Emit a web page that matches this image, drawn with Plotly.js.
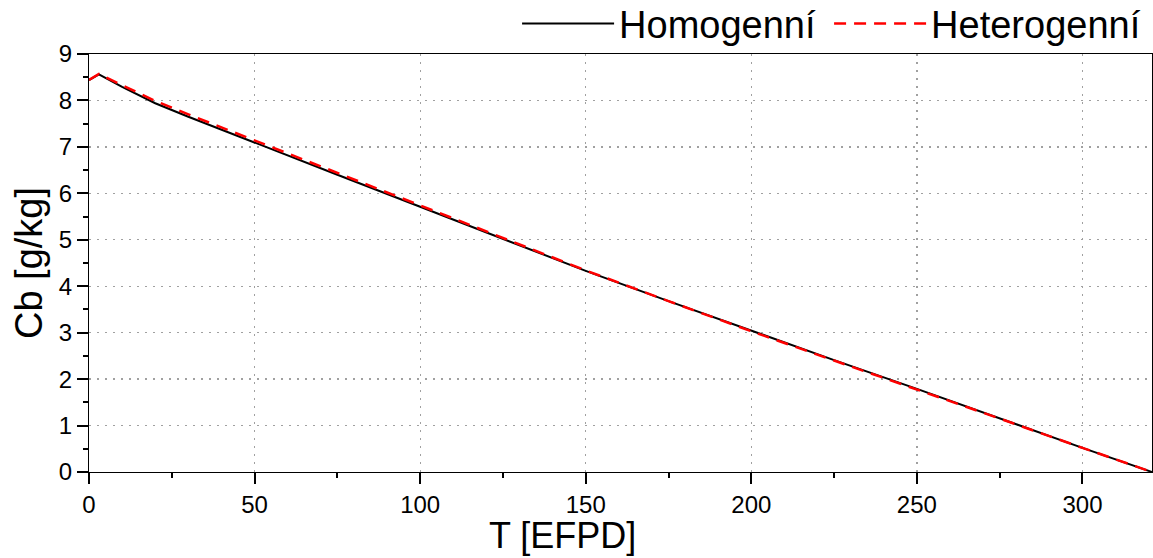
<!DOCTYPE html>
<html>
<head>
<meta charset="utf-8">
<script src="https://cdn.plot.ly/plotly-3.0.1.min.js"></script>
<style>html,body{margin:0;padding:0;background:#fff;}#chart{width:1153px;height:558px;}</style>
</head>
<body>
<div id="chart"></div>
<script>
const T = [0, 3, 10, 20, 30, 40, 50, 75, 100, 125, 150, 175, 200, 225, 250, 275, 300, 321];
const homogenni = [8.44, 8.56, 8.29, 7.94, 7.65, 7.37, 7.09, 6.40, 5.71, 5.02, 4.33, 3.68, 3.04, 2.41, 1.79, 1.15, 0.52, 0.0];
const heterogenni = [8.44, 8.57, 8.33, 7.99, 7.70, 7.42, 7.13, 6.44, 5.74, 5.04, 4.34, 3.68, 3.03, 2.40, 1.78, 1.15, 0.52, 0.0];
const seriesNames = ["Homogenní", "Heterogenní"];
const xTitle = "T [EFPD]";
const yTitle = "Cb [g/kg]";

const font = "Liberation Sans, Arial, sans-serif";
const traces = [
  {x: T, y: homogenni, name: seriesNames[0], mode: "lines", line: {color: "#000000", width: 2}, legendwidth: 205},
  {x: T, y: heterogenni, name: seriesNames[1], mode: "lines", line: {color: "#ff0000", width: 2.5, dash: "12px,8px"}}
];
const axisCommon = {
  showline: true, linecolor: "#000", linewidth: 1, mirror: true,
  ticks: "outside", ticklen: 11, tickwidth: 2, tickcolor: "#000",
  showgrid: true, gridcolor: "#a0a0a0", gridwidth: 1.3, griddash: "2px,6px",
  zeroline: false, automargin: false,
  tickfont: {family: font, size: 24, color: "#000"},
};
const layout = {
  width: 1153, height: 558,
  margin: {l: 89, r: 1, t: 54, b: 86, autoexpand: false},
  paper_bgcolor: "#fff", plot_bgcolor: "#fff",
  font: {family: font, color: "#000"},
  showlegend: true,
  legend: {orientation: "h", x: 0.994, xanchor: "right", xref: "container",
           y: 1.072, yanchor: "middle", yref: "paper",
           font: {family: font, size: 38, color: "#000"}, itemwidth: 92,
           bgcolor: "rgba(0,0,0,0)", borderwidth: 0},
  xaxis: Object.assign({}, axisCommon, {
    range: [0, 321], tick0: 0, dtick: 50,
    minor: {dtick: 25, ticks: "outside", ticklen: 5, tickwidth: 2, tickcolor: "#000", showgrid: false}
  }),
  yaxis: Object.assign({}, axisCommon, {
    range: [0, 9], tick0: 0, dtick: 1,
    minor: {dtick: 0.5, ticks: "outside", ticklen: 5, tickwidth: 2, tickcolor: "#000", showgrid: false},
    title: {text: yTitle, font: {family: font, size: 38, color: "#000"}, standoff: 4}
  }),
  annotations: [
    {text: xTitle, xref: "paper", yref: "paper", x: 0.445, y: -0.153, xanchor: "center", yanchor: "middle",
     showarrow: false, borderpad: 0, font: {family: font, size: 36, color: "#000"}}
  ]
};
Plotly.newPlot("chart", traces, layout, {displayModeBar: false, staticPlot: true});
</script>
</body>
</html>
